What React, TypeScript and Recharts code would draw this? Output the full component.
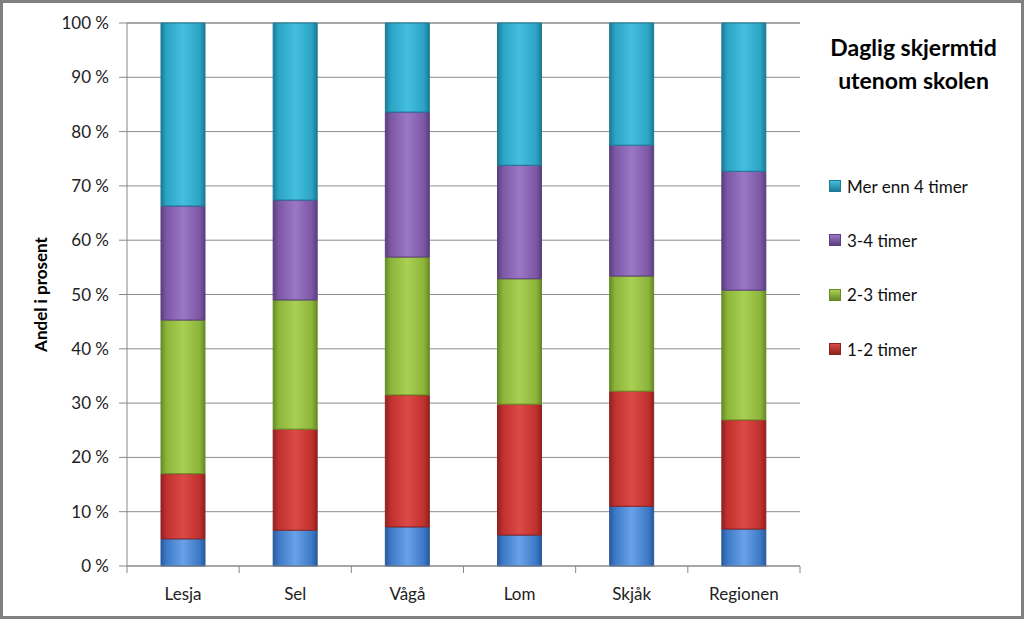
import { BarChart, Bar, XAxis, YAxis, CartesianGrid } from 'recharts';

const categories = ['Lesja', 'Sel', 'Vågå', 'Lom', 'Skjåk', 'Regionen'];
const underEn = [5.0, 6.6, 7.2, 5.7, 11.0, 6.8];
const enTilTo = [12.0, 18.6, 24.3, 24.1, 21.2, 20.1];
const toTilTre = [28.3, 23.8, 25.4, 23.1, 21.2, 23.9];
const treTilFire = [21.0, 18.4, 26.7, 20.9, 24.1, 21.9];
const merEnnFire = [33.7, 32.6, 16.4, 26.2, 22.5, 27.3];
const yTicks = [0, 10, 20, 30, 40, 50, 60, 70, 80, 90, 100];

const data = categories.map((name, i) => ({
  name,
  under1: underEn[i],
  t12: enTilTo[i],
  t23: toTilTre[i],
  t34: treTilFire[i],
  over4: merEnnFire[i],
}));

const series = [
  { key: 'under1', name: 'Under 1 time', base: '#3c78c6', light: '#6aa2e6', dark: '#2a5a9c', legend: false },
  { key: 't12', name: '1-2 timer', base: '#c0302e', light: '#dc4a46', dark: '#8e2220', legend: true },
  { key: 't23', name: '2-3 timer', base: '#8cb43a', light: '#a9d052', dark: '#678a26', legend: true },
  { key: 't34', name: '3-4 timer', base: '#7b57a6', light: '#9b77c6', dark: '#5a3f7e', legend: true },
  { key: 'over4', name: 'Mer enn 4 timer', base: '#2aa3c4', light: '#45bfdf', dark: '#1c7a94', legend: true },
];

const FONT = 'Lato, "Open Sans", sans-serif';
const PLOT_LEFT = 127;
const PLOT_RIGHT = 800;
const BAND = (PLOT_RIGHT - PLOT_LEFT) / categories.length;

function CategoryTick(props: any) {
  const { x, y, payload, index } = props;
  return (
    <g>
      <line x1={x - BAND / 2} x2={x - BAND / 2} y1={y - 8} y2={y - 1} stroke="#888" />
      {index === categories.length - 1 && (
        <line x1={x + BAND / 2} x2={x + BAND / 2} y1={y - 8} y2={y - 1} stroke="#888" />
      )}
      <text x={x} y={y + 26} textAnchor="middle" fill="#222" fontSize={17} fontFamily={FONT}>
        {payload.value}
      </text>
    </g>
  );
}

function LegendBox() {
  const items = series.filter((s) => s.legend).reverse();
  return (
    <div style={{ fontFamily: FONT, fontSize: 17, color: '#111' }}>
      {items.map((s) => (
        <div key={s.key} style={{ display: 'flex', alignItems: 'center', height: 54.3 }}>
          <span
            style={{
              display: 'inline-block',
              width: 10,
              height: 10,
              marginRight: 6,
              background: `linear-gradient(to bottom, ${s.light}, ${s.dark})`,
              border: `1px solid ${s.dark}`,
            }}
          />
          {s.name}
        </div>
      ))}
    </div>
  );
}

export default function App() {
  return (
    <div
      style={{
        position: 'absolute',
        left: 0,
        top: 0,
        width: 1024,
        height: 619,
        boxSizing: 'border-box',
        border: '3px solid #808080',
        background: '#fff',
        overflow: 'hidden',
      }}
    >
      <svg width={0} height={0} style={{ position: 'absolute' }}>
        <defs>
          {series.map((s) => (
            <linearGradient key={s.key} id={`g-${s.key}`} x1="0" y1="0" x2="1" y2="0">
              <stop offset="0%" stopColor={s.dark} />
              <stop offset="12%" stopColor={s.base} />
              <stop offset="50%" stopColor={s.light} />
              <stop offset="88%" stopColor={s.base} />
              <stop offset="100%" stopColor={s.dark} />
            </linearGradient>
          ))}
        </defs>
      </svg>
      <div style={{ position: 'absolute', left: -3, top: -3 }}>
        <BarChart
          width={1024}
          height={619}
          data={data}
          margin={{ top: 23, right: 1024 - PLOT_RIGHT, bottom: 0, left: 27 }}
          barSize={44}
        >
          <CartesianGrid vertical={false} stroke="#8c8c8c" />
          <XAxis
            dataKey="name"
            stroke="#888"
            tickLine={false}
            tick={<CategoryTick />}
            interval={0}
            height={53}
          />
          <YAxis
            domain={[0, 100]}
            ticks={yTicks}
            width={100}
            stroke="#888"
            tickSize={8}
            tickMargin={10}
            tickFormatter={(v: number) => `${v} %`}
            tick={{ fontSize: 17, fill: '#222', fontFamily: FONT }}
            label={{
              value: 'Andel i prosent',
              angle: -90,
              position: 'insideLeft',
              offset: 14,
              style: { textAnchor: 'middle', fontSize: 17, fontWeight: 'bold', fill: '#000', fontFamily: FONT },
            }}
          />
          {series.map((s) => (
            <Bar
              key={s.key}
              dataKey={s.key}
              name={s.name}
              stackId="a"
              fill={`url(#g-${s.key})`}
              stroke={s.dark}
              strokeWidth={1}
              isAnimationActive={false}
            />
          ))}
        </BarChart>
      </div>
      <div style={{ position: 'absolute', left: 826, top: 156, width: 190 }}>
        <LegendBox />
      </div>
      <div
        style={{
          position: 'absolute',
          left: 800,
          top: 28,
          width: 221,
          textAlign: 'center',
          fontFamily: FONT,
          fontWeight: 'bold',
          fontSize: 23,
          lineHeight: '33px',
          color: '#000',
        }}
      >
        Daglig skjermtid
        <br />
        utenom skolen
      </div>
    </div>
  );
}
